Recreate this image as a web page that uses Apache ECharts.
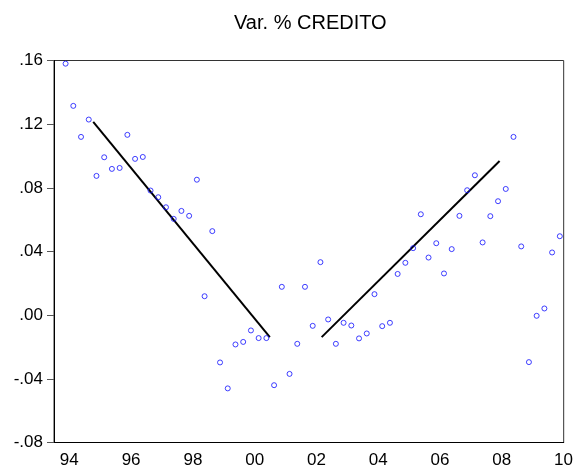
<!DOCTYPE html>
<html>
<head>
<meta charset="utf-8">
<script src="https://cdn.jsdelivr.net/npm/echarts@6/dist/echarts.min.js"></script>
<style>
  html, body { margin: 0; padding: 0; background: #fff; }
  #chart { width: 576px; height: 475px; }
</style>
</head>
<body>
<div id="chart"></div>
<script>
// Quarterly periods 1994Q1 .. 2010Q2
const firstYear = 1994;
const quarterCount = 66;
const categories = [];
for (let i = 0; i < quarterCount; i++) {
  categories.push((firstYear + Math.floor(i / 4)) + 'Q' + (i % 4 + 1));
}

// Year-on-year growth of credit (1994Q1 not available)
const credito = [
  null, 0.158, 0.1315, 0.112,
  0.1229, 0.0875, 0.0992, 0.0919,
  0.0925, 0.1133, 0.0982, 0.0994,
  0.0783, 0.0741, 0.0678, 0.0605,
  0.0655, 0.0624, 0.0851, 0.0119,
  0.0528, -0.0297, -0.046, -0.0184,
  -0.0168, -0.0096, -0.0144, -0.0144,
  -0.044, 0.0178, -0.0369, -0.018,
  0.0178, -0.0067, 0.0333, -0.0027,
  -0.018, -0.0048, -0.0065, -0.0146,
  -0.0115, 0.0132, -0.0069, -0.0048,
  0.0259, 0.0329, 0.0421, 0.0634,
  0.0362, 0.0452, 0.0262, 0.0415,
  0.0624, 0.0785, 0.0879, 0.0457,
  0.0622, 0.0716, 0.0793, 0.112,
  0.0432, -0.0295, -0.0004, 0.0042,
  0.0394, 0.0496
];

// Trend segments: [quarter index from 1994Q1, value]
const trendDown = [[4.58, 0.1214], [27.45, -0.0138]];
const trendUp = [[34.16, -0.0138], [57.2, 0.0969]];

// Y axis ticks
const yMin = -0.08, yMax = 0.16, yStep = 0.04;

const scatterData = [];
credito.forEach((v, i) => { if (v !== null) scatterData.push([categories[i], v]); });

function fmtY(v) {
  const s = (Math.round(v * 100) / 100).toFixed(2);
  return s.replace(/^(-?)0\./, '$1.');
}

const font = 'Liberation Sans, Arial, sans-serif';

const chart = echarts.init(document.getElementById('chart'), null, { renderer: 'canvas' });
chart.setOption({
  animation: false,
  backgroundColor: '#ffffff',
  title: {
    text: 'Var. % CREDITO',
    left: 229,
    top: 8,
    textStyle: { fontFamily: font, fontSize: 20, fontWeight: 'normal', color: '#000' }
  },
  grid: {
    left: 54, right: 11, top: 60.5, bottom: 32.5,
    show: true, borderColor: '#333', borderWidth: 1, backgroundColor: 'transparent'
  },
  xAxis: [
    {
      type: 'category',
      data: categories,
      boundaryGap: true,
      position: 'bottom',
      axisLine: { onZero: false, lineStyle: { color: '#000', width: 1 } },
      axisTick: {
        alignWithLabel: true,
        interval: (i) => i % 8 === 0,
        length: 7,
        lineStyle: { color: '#000', width: 1 }
      },
      axisLabel: {
        interval: (i) => i % 8 === 0,
        formatter: (val) => val.slice(2, 4),
        align: 'left',
        padding: [0, 0, 0, 2],
        margin: 9,
        fontFamily: font,
        fontSize: 17,
        color: '#000'
      },
      splitLine: { show: false }
    },
    {
      type: 'category',
      data: categories,
      boundaryGap: true,
      position: 'bottom',
      axisLine: { show: false, onZero: false },
      axisTick: {
        alignWithLabel: true,
        interval: (i) => i % 8 === 4,
        length: 7,
        lineStyle: { color: '#777', width: 1 }
      },
      axisLabel: { show: false },
      splitLine: { show: false }
    },
    {
      type: 'value',
      min: -0.5,
      max: quarterCount - 0.5,
      show: false,
      axisLine: { onZero: false }
    }
  ],
  yAxis: {
    type: 'value',
    min: yMin,
    max: yMax,
    interval: yStep,
    axisLine: { show: true, onZero: false, lineStyle: { color: '#000', width: 1 } },
    axisTick: { show: true, length: 7, lineStyle: { color: '#555', width: 1 } },
    axisLabel: {
      formatter: fmtY,
      margin: 11,
      fontFamily: font,
      fontSize: 17,
      color: '#000'
    },
    splitLine: { show: false }
  },
  series: [
    {
      type: 'scatter',
      xAxisIndex: 0,
      data: scatterData,
      symbol: 'circle',
      symbolSize: 5,
      itemStyle: { color: 'rgba(255,255,255,0)', borderColor: '#1010ff', borderWidth: 1 },
      z: 3
    },
    {
      type: 'line',
      xAxisIndex: 2,
      data: trendDown,
      showSymbol: false,
      lineStyle: { color: '#000', width: 2 },
      z: 2
    },
    {
      type: 'line',
      xAxisIndex: 2,
      data: trendUp,
      showSymbol: false,
      lineStyle: { color: '#000', width: 2 },
      z: 2
    }
  ]
});
</script>
</body>
</html>
